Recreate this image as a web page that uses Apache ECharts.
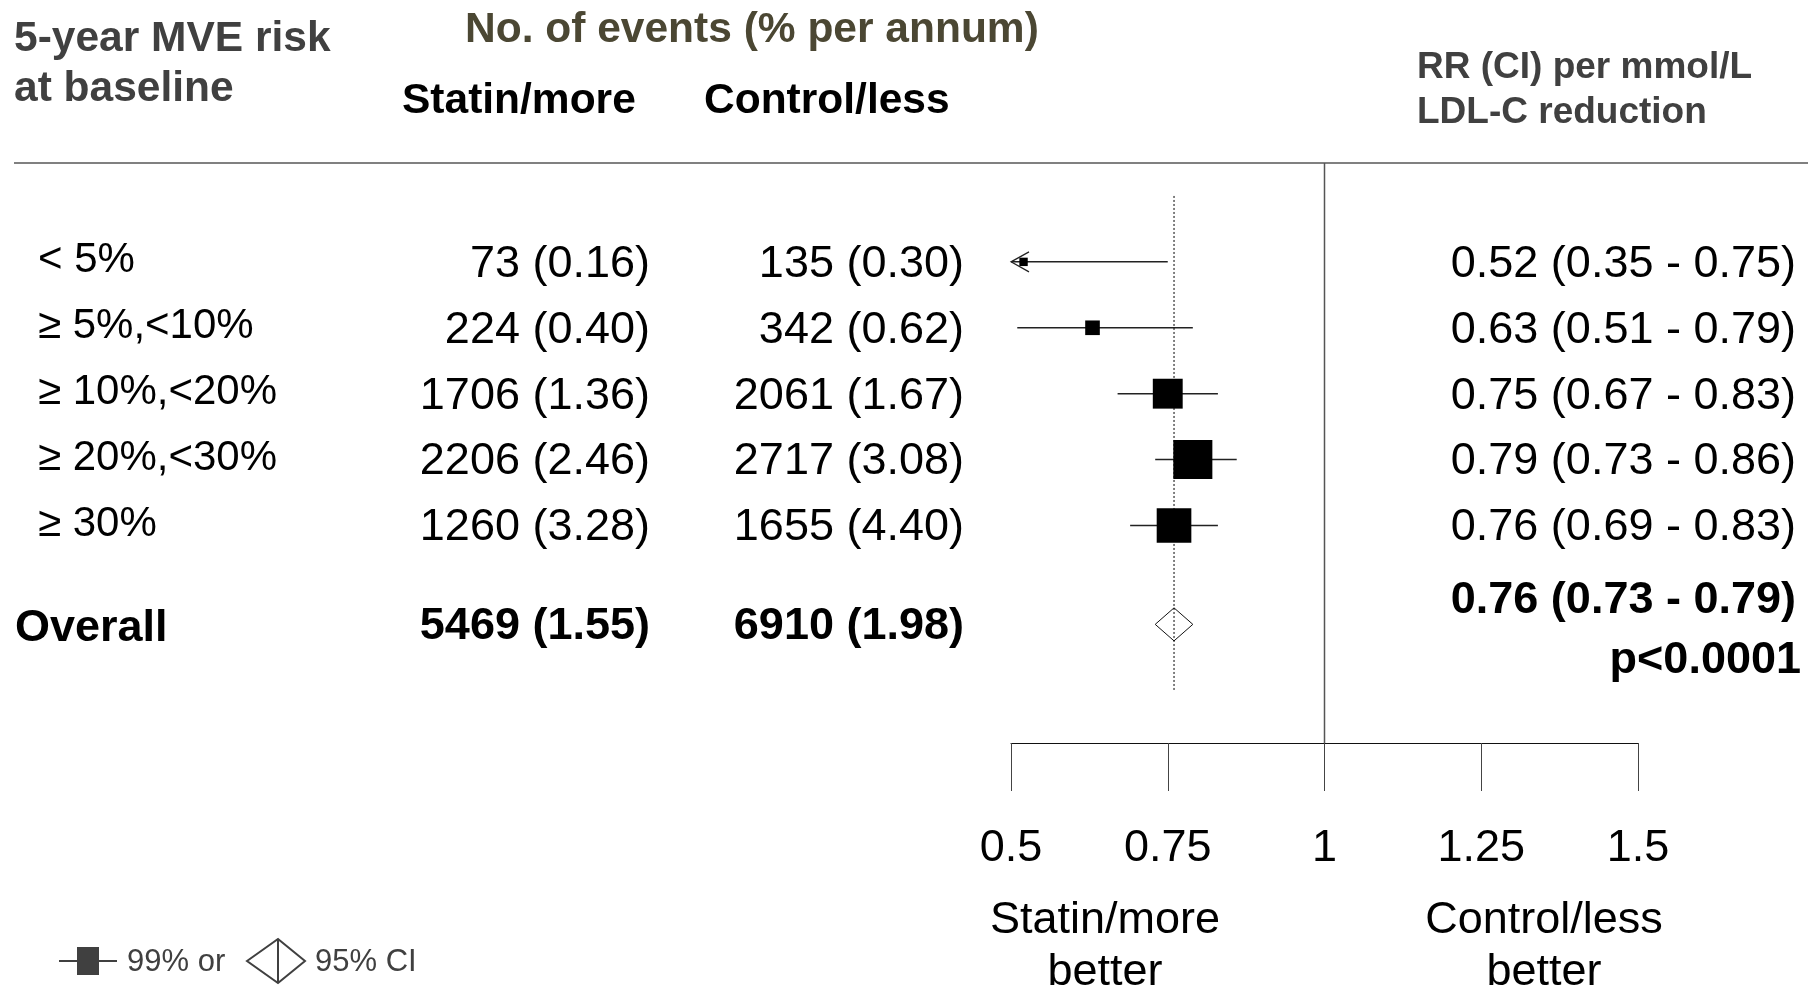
<!DOCTYPE html>
<html><head><meta charset="utf-8">
<script src="https://cdn.jsdelivr.net/npm/echarts@6/dist/echarts.min.js"></script>
<style>html,body{margin:0;padding:0;background:#fff}#c{width:1808px;height:988px}</style>
</head><body><div id="c"></div>
<script>
// ---- data ----
const riskGroups = ['< 5%', '≥ 5%,<10%', '≥ 10%,<20%', '≥ 20%,<30%', '≥ 30%'];
const statinEvents = ['73 (0.16)', '224 (0.40)', '1706 (1.36)', '2206 (2.46)', '1260 (3.28)'];
const controlEvents = ['135 (0.30)', '342 (0.62)', '2061 (1.67)', '2717 (3.08)', '1655 (4.40)'];
const rr = [0.52, 0.63, 0.75, 0.79, 0.76];
const rrLow = [0.35, 0.51, 0.67, 0.73, 0.69];
const rrHigh = [0.75, 0.79, 0.83, 0.86, 0.83];
const overallLabel = 'Overall';
const overallStatin = '5469 (1.55)';
const overallControl = '6910 (1.98)';
const overallRR = [0.76, 0.73, 0.79];
const overallP = 'p<0.0001';
const xTicks = [0.5, 0.75, 1, 1.25, 1.5];

// ---- layout / style ----
const FONT = "'Liberation Sans', Arial, sans-serif";
const yMin = -1.5, yMax = 7.3;
const overallRow = riskGroups.length + 0.5;
const boxK = 6.4;
const fmt = (v, lo, hi) => v.toFixed(2) + ' (' + lo.toFixed(2) + ' - ' + hi.toFixed(2) + ')';

const chart = echarts.init(document.getElementById('c'), null, {renderer: 'canvas'});

function T(x, y, s, align, size, color, bold) {
  return {type: 'text', style: {x: x, y: y, text: s, align: align, verticalAlign: 'middle',
    font: (bold ? 'bold ' : '') + size + 'px ' + FONT, fill: color}};
}

const option = {
  backgroundColor: '#fff',
  animation: false,
  grid: {left: 1011, right: 170, top: 163, bottom: 245},
  xAxis: {
    type: 'value', min: xTicks[0], max: xTicks[xTicks.length - 1], interval: xTicks[1] - xTicks[0],
    position: 'bottom',
    axisLine: {show: true, onZero: false, lineStyle: {color: '#111', width: 1}},
    axisTick: {show: true, length: 48, lineStyle: {color: '#444', width: 1}},
    axisLabel: {fontSize: 45, fontFamily: FONT, color: '#000', margin: 83},
    splitLine: {show: false}
  },
  yAxis: {type: 'value', inverse: true, min: yMin, max: yMax, show: false, splitLine: {show: false}},
  series: [
    { // line of no effect
      type: 'line', symbol: 'none', silent: true,
      data: [[1, yMin], [1, yMax]],
      lineStyle: {color: '#555', width: 1.5}
    },
    { // overall dotted line
      type: 'line', symbol: 'none', silent: true,
      data: [[overallRR[0], -1.0], [overallRR[0], 6.5]],
      lineStyle: {color: '#000', width: 1, type: [2, 2]}
    },
    { // CI lines + boxes
      type: 'custom', coordinateSystem: 'cartesian2d', clip: false,
      data: rr.map((v, i) => [i, v, rrLow[i], rrHigh[i]]),
      encode: {x: [1, 2, 3], y: 0},
      renderItem: function (params, api) {
        const y = api.value(0), v = api.value(1), lo = api.value(2), hi = api.value(3);
        const xmin = xTicks[0];
        const pLo = api.coord([Math.max(lo, xmin), y]);
        const pHi = api.coord([hi, y]);
        const pV = api.coord([v, y]);
        const side = boxK / Math.log(hi / lo);
        const children = [
          {type: 'line', shape: {x1: pLo[0], y1: pLo[1], x2: pHi[0], y2: pHi[1]},
            style: {stroke: '#222', lineWidth: 1.5}},
          {type: 'rect', shape: {x: pV[0] - side / 2, y: pV[1] - side / 2, width: side, height: side},
            style: {fill: '#000'}}
        ];
        if (lo < xmin) {
          children.push({type: 'polyline', shape: {points: [[pLo[0] + 18, pLo[1] - 10], [pLo[0], pLo[1]], [pLo[0] + 18, pLo[1] + 10]]},
            style: {stroke: '#222', lineWidth: 1.2, fill: null}});
        }
        return {type: 'group', children: children};
      }
    },
    { // overall diamond
      type: 'custom', coordinateSystem: 'cartesian2d', clip: false,
      data: [[overallRow, overallRR[0], overallRR[1], overallRR[2]]],
      encode: {x: [1, 2, 3], y: 0},
      renderItem: function (params, api) {
        const y = api.value(0);
        const c = api.coord([api.value(1), y]);
        const l = api.coord([api.value(2), y]);
        const r = api.coord([api.value(3), y]);
        const h = 16.5;
        return {type: 'polygon', shape: {points: [[l[0], l[1]], [c[0], c[1] - h], [r[0], r[1]], [c[0], c[1] + h]]},
          style: {fill: '#fff', stroke: '#111', lineWidth: 1}};
      }
    },
    { // table text rows
      type: 'custom', coordinateSystem: 'cartesian2d', clip: false,
      data: riskGroups.map((g, i) => [i, rr[i]]),
      encode: {x: 1, y: 0},
      renderItem: function (params, api) {
        const i = params.dataIndex;
        const y = api.coord([xTicks[0], api.value(0)])[1];
        return {type: 'group', children: [
          T(38, y - 1, riskGroups[i], 'left', 42, '#000'),
          T(650, y + 2.5, statinEvents[i], 'right', 45, '#000'),
          T(964, y + 2.5, controlEvents[i], 'right', 45, '#000'),
          T(1796, y + 2.5, fmt(rr[i], rrLow[i], rrHigh[i]), 'right', 45, '#000')
        ]};
      }
    },
    { // overall text row
      type: 'custom', coordinateSystem: 'cartesian2d', clip: false,
      data: [[overallRow, overallRR[0]]],
      encode: {x: 1, y: 0},
      renderItem: function (params, api) {
        const y = api.coord([xTicks[0], api.value(0)])[1];
        return {type: 'group', children: [
          T(15, y + 4.5, overallLabel, 'left', 45, '#000', true),
          T(650, y + 2.5, overallStatin, 'right', 45, '#000', true),
          T(964, y + 2.5, overallControl, 'right', 45, '#000', true),
          T(1796, y - 24, fmt(overallRR[0], overallRR[1], overallRR[2]), 'right', 45, '#000', true),
          T(1801, y + 36, overallP, 'right', 45, '#000', true)
        ]};
      }
    }
  ],
  graphic: [
    T(14, 39, '5-year MVE risk', 'left', 42.5, '#404040', true),
    T(14, 89, 'at baseline', 'left', 42.5, '#404040', true),
    T(465, 30, 'No. of events (% per annum)', 'left', 42.5, '#4b4733', true),
    T(402, 101, 'Statin/more', 'left', 42.5, '#000', true),
    T(704, 101, 'Control/less', 'left', 42.5, '#000', true),
    T(1417, 68, 'RR (CI) per mmol/L', 'left', 37, '#404040', true),
    T(1417, 113, 'LDL-C reduction', 'left', 37, '#404040', true),
    {type: 'line', shape: {x1: 14, y1: 163, x2: 1808, y2: 163}, style: {stroke: '#808080', lineWidth: 2}},
    T(1105, 920.5, 'Statin/more', 'center', 45, '#000'),
    T(1105, 972.5, 'better', 'center', 45, '#000'),
    T(1544, 920.5, 'Control/less', 'center', 45, '#000'),
    T(1544, 972.5, 'better', 'center', 45, '#000'),
    // key
    {type: 'line', shape: {x1: 59, y1: 961, x2: 117, y2: 961}, style: {stroke: '#404040', lineWidth: 2}},
    {type: 'rect', shape: {x: 77, y: 947, width: 22, height: 28}, style: {fill: '#404040'}},
    T(127, 962, '99% or', 'left', 31, '#404040'),
    {type: 'polygon', shape: {points: [[247, 961], [278, 939], [305, 961], [278, 983]]}, style: {fill: '#fff', stroke: '#404040', lineWidth: 2}},
    {type: 'line', shape: {x1: 278, y1: 939, x2: 278, y2: 983}, style: {stroke: '#404040', lineWidth: 2}},
    T(315, 962, '95% CI', 'left', 31, '#404040')
  ]
};
chart.setOption(option);
</script>
</body></html>
